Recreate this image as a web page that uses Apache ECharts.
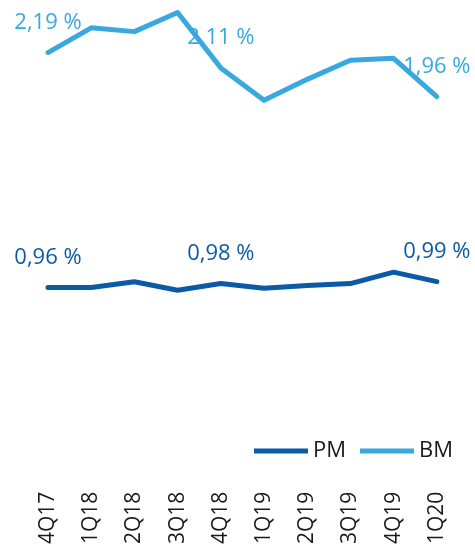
<!DOCTYPE html>
<html>
<head>
<meta charset="utf-8">
<script src="https://cdn.jsdelivr.net/npm/echarts@6/dist/echarts.min.js"></script>
<style>
  html, body { margin: 0; padding: 0; background: #fff; }
  #chart { width: 475px; height: 547px; }
</style>
</head>
<body>
<div id="chart"></div>
<script>
var quarters = ['4Q17', '1Q18', '2Q18', '3Q18', '4Q18', '1Q19', '2Q19', '3Q19', '4Q19', '1Q20'];
var pmValues = [0.96, 0.96, 0.99, 0.945, 0.98, 0.955, 0.97, 0.98, 1.04, 0.99];
var bmValues = [2.19, 2.32, 2.30, 2.40, 2.11, 1.94, 2.05, 2.15, 2.16, 1.96];
var labelIdx = [0, 4, 9];

var pmColor = '#0b5aa6';
var bmColor = '#38a8df';
var font = 'Open Sans';

function fmt(v) {
  return v.toFixed(2).replace('.', ',') + ' %';
}

// only some points carry a label
function withLabels(values, color) {
  return values.map(function (v, i) {
    if (labelIdx.indexOf(i) < 0) return v;
    return {
      value: v,
      label: {
        show: true,
        position: 'top',
        distance: 19,
        color: color,
        fontFamily: font,
        fontSize: 22,
        formatter: function (p) { return fmt(p.value); }
      }
    };
  });
}

var chart = echarts.init(document.getElementById('chart'));
var option = {
  backgroundColor: '#fff',
  animation: false,
  grid: { left: 26.4, right: 16.6, top: 3, bottom: 76 },
  legend: {
    right: 17,
    top: 435,
    itemWidth: 54,
    itemHeight: 14,
    itemGap: 14,
    textStyle: { fontFamily: font, fontSize: 22, color: '#1a1a1a' },
    data: [
      { name: 'PM', icon: 'path://M0,0 L54,0 L54,5 L0,5 Z' },
      { name: 'BM', icon: 'path://M0,0 L54,0 L54,5 L0,5 Z' }
    ]
  },
  xAxis: {
    type: 'category',
    data: quarters,
    boundaryGap: true,
    axisLine: { show: false },
    axisTick: { show: false },
    axisLabel: {
      rotate: 90,
      margin: 21,
      fontFamily: font,
      fontSize: 21,
      color: '#1a1a1a'
    }
  },
  yAxis: {
    type: 'value',
    min: 0,
    max: 2.45,
    show: false,
    splitLine: { show: false }
  },
  series: [
    {
      name: 'PM',
      type: 'line',
      data: withLabels(pmValues, pmColor),
      symbol: 'circle',
      symbolSize: 0,
      color: pmColor,
      lineStyle: { width: 5, color: pmColor, cap: 'round', join: 'round' }
    },
    {
      name: 'BM',
      type: 'line',
      data: withLabels(bmValues, bmColor),
      symbol: 'circle',
      symbolSize: 0,
      color: bmColor,
      lineStyle: { width: 5, color: bmColor, cap: 'round', join: 'round' }
    }
  ]
};
chart.setOption(option);
</script>
</body>
</html>
